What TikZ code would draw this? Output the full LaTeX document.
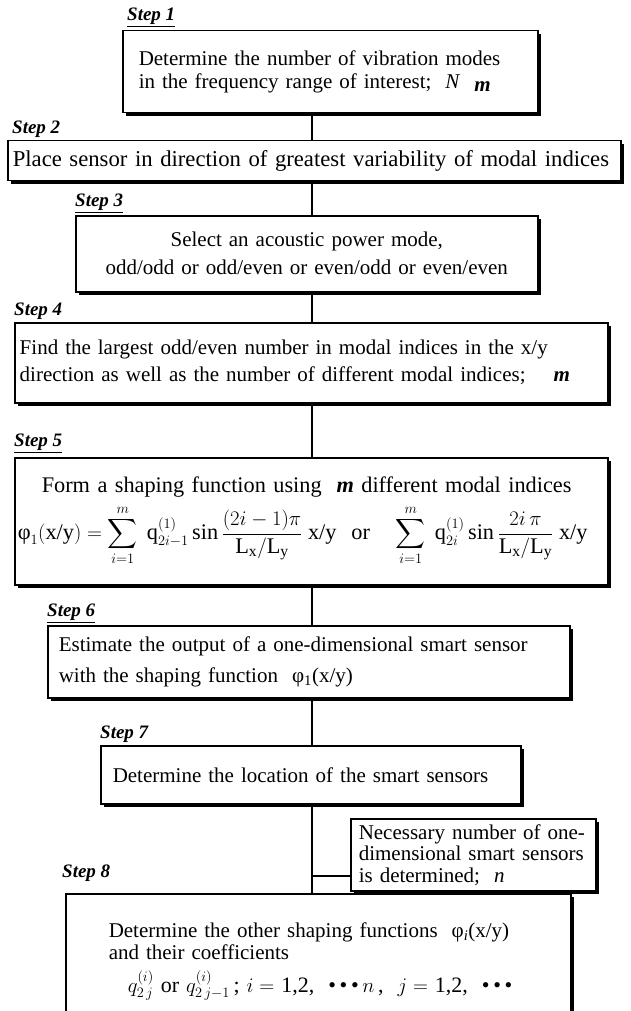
\documentclass[tikz,border=0pt]{standalone}
\usepackage{amsmath}
\usepackage{fontspec}
\setmainfont{Liberation Serif}
\usepackage{tikz}
\usetikzlibrary{shadows,positioning}
\newcommand{\bim}{\textbf{\textit{m}}}
\newcommand{\xy}{\text{x/y}}
\newcommand{\phitxt}{\text{φ}}
\newcommand{\LxLy}{\text{L}_\text{x}/\text{L}_\text{y}}
\newcommand{\tridots}{\textbullet\,\textbullet\,\textbullet}

\begin{document}
\begin{tikzpicture}[
  x=1pt, y=-1pt,
  every node/.style={font=\fontsize{21}{23}\selectfont},
  stepbox/.style={draw, line width=1.5pt, fill=white, anchor=north west, align=left, inner ysep=0pt,
    drop shadow={shadow xshift=3pt, shadow yshift=-3pt, opacity=1, fill=black}},
  steplab/.style={anchor=south west, inner sep=0pt, font=\fontsize{19}{21}\selectfont\bfseries\itshape},
  link/.style={line width=1.5pt}
]
\useasboundingbox (0,0) rectangle (630,1011);
\coordinate (trunk) at (312,0);

\node[steplab] (l1) at (127,28) {\underline{Step 1}};
\node[stepbox, text width=383pt, inner xsep=16pt, minimum height=82pt] (s1) at (122,30)
  {Determine the number of vibration modes\\in the frequency range of interest;~~\textit{N}~~\raisebox{-3pt}{\bim}};

\node[steplab] (l2) at (12,138) {Step 2};
\node[stepbox, text width=603pt, inner xsep=5pt, minimum height=40pt,
  font=\fontsize{22.7}{25}\selectfont] (s2) at (7,140)
  {Place sensor in direction of greatest variability of modal indices};

\node[steplab] (l3) at (75,214) {\underline{Step 3}};
\node[stepbox, align=center, text width=442pt, inner xsep=10pt, minimum height=76pt,
  font=\fontsize{21}{28}\selectfont] (s3) at (75,215)
  {Select an acoustic power mode,\\odd/odd or odd/even or even/odd or even/even};

\node[steplab] (l4) at (14,320) {Step 4};
\node[stepbox, text width=583pt, inner xsep=5pt, minimum height=80pt,
  font=\fontsize{21}{27}\selectfont] (s4) at (14,322)
  {Find the largest odd/even number in modal indices in the x/y\\direction as well as the number of different modal indices;\quad\ \bim};

\node[steplab] (l5) at (14,454) {\underline{Step 5}};
\node[stepbox, text width=587pt, inner xsep=3pt, minimum height=127pt,
  font=\fontsize{22.3}{25}\selectfont] (s5) at (14,457)
  {\hspace*{24pt}Form a shaping function using~~\bim\ different modal indices\\[7pt]
   $\displaystyle \phitxt_1(\xy) = \sum_{i=1}^{m}\;\text{q}^{(1)}_{2i-1}\sin\frac{(2i-1)\pi}{\LxLy}\;\xy\ \ \text{or}\quad\sum_{i=1}^{m}\;\text{q}^{(1)}_{2i}\sin\frac{2i\,\pi}{\LxLy}\;\xy$};

\node[steplab] (l6) at (47,624) {\underline{Step 6}};
\node[stepbox, text width=500pt, inner xsep=11pt, minimum height=72pt,
  font=\fontsize{21}{31}\selectfont] (s6) at (47,625)
  {Estimate the output of a one-dimensional smart sensor\\with the shaping function~~φ\textsubscript{1}(x/y)};

\node[steplab] (l7) at (100,743) {Step 7};
\node[stepbox, text width=396pt, inner xsep=12pt, minimum height=58pt] (s7) at (100,745)
  {Determine the location of the smart sensors};

\node[stepbox, text width=229pt, inner xsep=8pt, minimum height=72pt,
  font=\fontsize{21}{21.5}\selectfont] (nb) at (350,818)
  {Necessary number of one-\\dimensional smart sensors\\is determined;~~\textit{n}};

\node[steplab] (l8) at (62,882) {Step 8};
\node[stepbox, text width=419pt, inner xsep=43pt, minimum height=136pt,
  font=\fontsize{21}{21.5}\selectfont] (s8) at (65,893)
  {Determine the other shaping functions~~φ\textsubscript{\textit{i}}(x/y)\\and their coefficients\\[10pt]
   \hspace*{19pt}{\fontsize{22}{24}\selectfont $q^{(i)}_{2\,j}$ or $q^{(i)}_{2\,j-1}$\,;\ $i=$\ 1,2,\ \ \tridots\,$n$\,,\ \ $j=$\ 1,2,\ \ \tridots}};

\draw[link] (s1.south -| trunk) -- (s2.north -| trunk);
\draw[link] (s2.south -| trunk) -- (s3.north -| trunk);
\draw[link] (s3.south -| trunk) -- (s4.north -| trunk);
\draw[link] (s4.south -| trunk) -- (s5.north -| trunk);
\draw[link] (s5.south -| trunk) -- (s6.north -| trunk);
\draw[link] (s6.south -| trunk) -- (s7.north -| trunk);
\draw[link] (s7.south -| trunk) -- (s8.north -| trunk);
\coordinate (br) at (312,876);
\draw[link] (br) -- (br -| nb.west);
\end{tikzpicture}
\end{document}
